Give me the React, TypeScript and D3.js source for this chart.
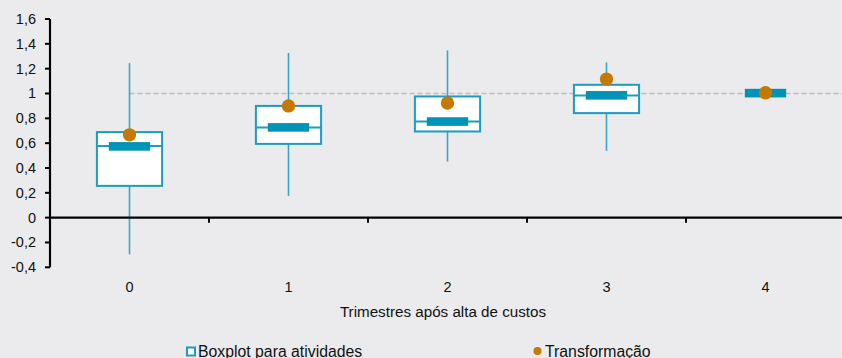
import { useMemo } from "react";
import * as d3 from "d3";

const W = 842;
const H = 358;
const PLOT = { left: 50, right: 845, top: 19, bottom: 267.3 };

const categories = ["0", "1", "2", "3", "4"];
const whiskerLow = [-0.295, 0.175, 0.452, 0.538, 1.0];
const q1 = [0.256, 0.594, 0.694, 0.842, 1.0];
const median = [0.578, 0.726, 0.774, 0.984, 1.0];
const q3 = [0.689, 0.9, 0.976, 1.07, 1.0];
const whiskerHigh = [1.245, 1.326, 1.347, 1.25, 1.0];
const centerBar = [0.574, 0.727, 0.774, 0.985, 1.003];
const transformacao = [0.667, 0.9, 0.923, 1.116, 1.006];
const yTicks = [-0.4, -0.2, 0, 0.2, 0.4, 0.6, 0.8, 1, 1.2, 1.4, 1.6];

const BOX_STROKE = "#1b9dc1";
const WHISKER = "#35a8c8";
const BAR = "#0093b7";
const DOT = "#c57900";
const FONT = "'Liberation Sans', Arial, sans-serif";

const fmt = (v: number) => {
  const r = Math.round(v * 10) / 10;
  return r === 0 ? "0" : String(r).replace(".", ",");
};

const App = () => {
  const x = useMemo(
    () => d3.scaleBand().domain(categories).range([PLOT.left, PLOT.right]).padding(0),
    []
  );
  const y = useMemo(
    () => d3.scaleLinear().domain([-0.4, 1.6]).range([PLOT.bottom, PLOT.top]),
    []
  );
  const bw = x.bandwidth();
  const boxW = bw * 0.41;
  const barW = bw * 0.26;
  const cx = (c: string) => (x(c) as number) + bw / 2;

  return (
    <svg
      width={W}
      height={H}
      style={{ position: "absolute", left: 0, top: 0, background: "#ebebed" }}
      fontFamily={FONT}
    >
      <rect width={W} height={H} fill="#ebebed" />
      {/* reference line at 1 */}
      <line
        x1={cx(categories[0])}
        x2={W}
        y1={y(1)}
        y2={y(1)}
        stroke="#bdbdbf"
        strokeWidth={1.6}
        strokeDasharray="5,3"
      />

      {/* y axis */}
      <line x1={PLOT.left} x2={PLOT.left} y1={y(1.6)} y2={y(-0.4)} stroke="#000" strokeWidth={2.2} />
      {yTicks.map((t) => (
        <g key={t}>
          <line x1={PLOT.left - 5} x2={PLOT.left} y1={y(t)} y2={y(t)} stroke="#000" strokeWidth={2} />
          <text x={36} y={y(t) + 5} textAnchor="end" fontSize={14.5} fill="#111">
            {fmt(t)}
          </text>
        </g>
      ))}

      {/* boxes */}
      {categories.map((c, i) => {
        const mx = cx(c);
        return (
          <g key={c}>
            <line x1={mx} x2={mx} y1={y(whiskerHigh[i])} y2={y(q3[i])} stroke={WHISKER} strokeWidth={1.6} />
            <line x1={mx} x2={mx} y1={y(q1[i])} y2={y(whiskerLow[i])} stroke={WHISKER} strokeWidth={1.6} />
            {q3[i] > q1[i] && (
              <>
                <rect
                  x={mx - boxW / 2}
                  y={y(q3[i])}
                  width={boxW}
                  height={y(q1[i]) - y(q3[i])}
                  fill="#fff"
                  stroke={BOX_STROKE}
                  strokeWidth={2}
                />
                <line
                  x1={mx - boxW / 2}
                  x2={mx + boxW / 2}
                  y1={y(median[i])}
                  y2={y(median[i])}
                  stroke={BOX_STROKE}
                  strokeWidth={2}
                />
              </>
            )}
            <rect x={mx - barW / 2} y={y(centerBar[i]) - 4.3} width={barW} height={8.6} fill={BAR} />
            <circle cx={mx} cy={y(transformacao[i])} r={6.7} fill={DOT} />
          </g>
        );
      })}

      {/* x axis at zero */}
      <line x1={PLOT.left - 1} x2={W} y1={y(0)} y2={y(0)} stroke="#000" strokeWidth={2.2} />
      {x.domain().slice(1).map((c) => (
        <line key={c} x1={x(c)} x2={x(c)} y1={y(0)} y2={y(0) + 5} stroke="#000" strokeWidth={2} />
      ))}
      {categories.map((c) => (
        <text key={c} x={cx(c)} y={292} textAnchor="middle" fontSize={14.5} fill="#111">
          {c}
        </text>
      ))}
      <text x={443} y={317} textAnchor="middle" fontSize={15.2} fill="#111">
        Trimestres após alta de custos
      </text>

      {/* legend */}
      <rect x={187} y={347.5} width={8} height={8} fill="#fff" stroke={BOX_STROKE} strokeWidth={2} />
      <text x={198} y={356.5} fontSize={15.8} fill="#111">
        Boxplot para atividades
      </text>
      <circle cx={537.5} cy={351} r={4} fill={DOT} />
      <text x={545} y={356.5} fontSize={15.8} fill="#111">
        Transformação
      </text>
    </svg>
  );
};

export default App;
